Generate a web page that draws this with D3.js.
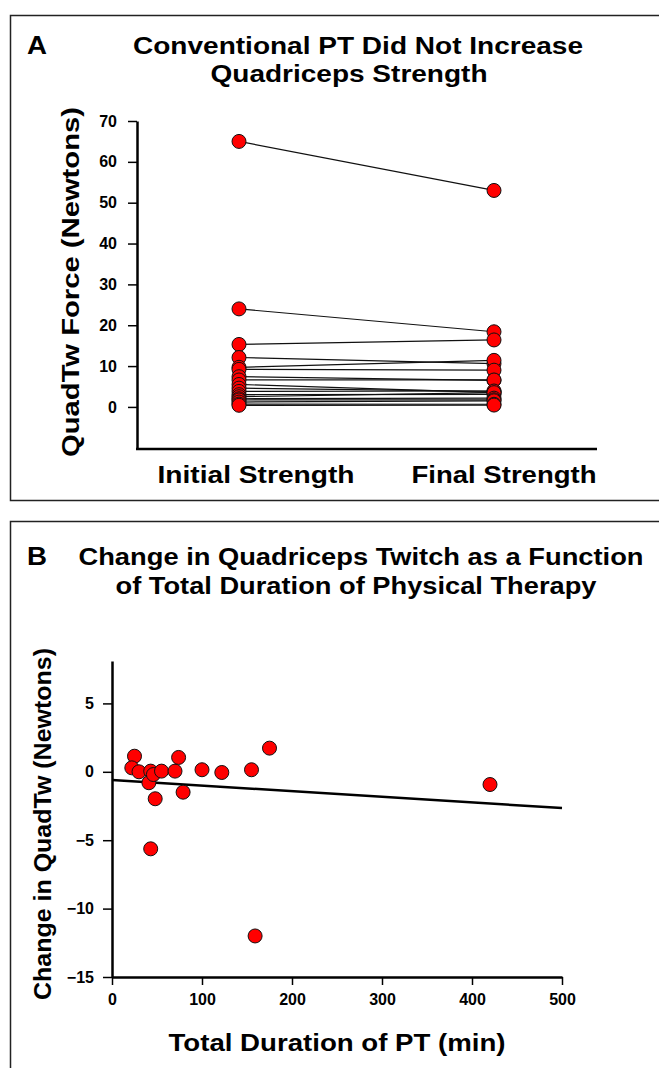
<!DOCTYPE html>
<html>
<head>
<meta charset="utf-8">
<script src="https://cdn.jsdelivr.net/npm/d3@7"></script>
<style>
  body { margin: 0; background: #fff; }
  svg text { font-family: "Liberation Sans", Arial, sans-serif; font-weight: bold; fill: #000; }
</style>
</head>
<body>
<svg id="chart" width="659" height="1068"></svg>
<script>
// Panel A: paired strength values per subject (Newtons)
const categoriesA = ['Initial Strength', 'Final Strength'];
const initialForce = [65, 24, 15.3, 12.1, 9.7, 9.2, 7.4, 6.6, 5.5, 4.6, 3.8, 3.0, 2.5, 2.0, 1.7, 1.2, 0.7, 0.4];
const finalForce   = [53, 18.4, 16.4, 10.6, 11.4, 9.0, 6.5, 6.6, 3.5, 3.8, 3.9, 3.05, 3.5, 2.15, 1.75, 1.5, 0.65, 0.45];
const ticksA = [0, 10, 20, 30, 40, 50, 60, 70];

// Panel B: PT duration (min) vs change in QuadTw (N)
const durationMin = [25, 22, 30, 43, 41, 46, 48, 55, 70, 74, 79, 100, 122, 155, 175, 43, 420, 159];
const changeForce = [1.14, 0.29, 0, 0.05, -0.8, -0.2, -1.97, 0.05, 0.05, 1.05, -1.49, 0.15, -0.05, 0.15, 1.73, -5.63, -0.93, -12];
const fitX = [0, 500];
const fitY = [-0.6, -2.65];
const ticksBx = [0, 100, 200, 300, 400, 500];
const ticksBy = [-15, -10, -5, 0, 5];

const svg = d3.select('#chart');

// text helper: reference glyphs are a bit wider than Liberation Sans, so stretch to measured width
function label(parent, str, x, y, size, width, rot) {
  const t = parent.append('text')
    .attr('transform', rot ? `translate(${x},${y}) rotate(-90)` : `translate(${x},${y})`)
    .attr('text-anchor', 'middle').attr('font-size', size).text(str);
  if (width) t.attr('textLength', width).attr('lengthAdjust', 'spacingAndGlyphs');
  return t;
}

// panel frames (they run off the right/bottom edge)
svg.append('rect').attr('x', 10.5).attr('y', 15.5).attr('width', 700).attr('height', 485)
  .attr('fill', 'none').attr('stroke', '#222').attr('stroke-width', 1.5);
svg.append('rect').attr('x', 10.5).attr('y', 521.5).attr('width', 700).attr('height', 600)
  .attr('fill', 'none').attr('stroke', '#222').attr('stroke-width', 1.5);

// ---------- Panel A ----------
const xA = d3.scalePoint().domain(categoriesA).range([137, 596]).padding(0.4);
const yA = d3.scaleLinear().domain([-10.3, 70]).range([449, 121]);

label(svg, 'A', 37, 54, 26, 20);
label(svg, 'Conventional PT Did Not Increase', 358, 54, 23, 450);
label(svg, 'Quadriceps Strength', 349, 82, 23, 277);

const axA = svg.append('g').attr('transform', 'translate(137,0)')
  .call(d3.axisLeft(yA).tickValues(ticksA).tickSize(9).tickSizeOuter(0).tickPadding(11));
axA.select('.domain').attr('stroke-width', 2.5);
axA.selectAll('.tick line').attr('stroke-width', 1.5);
axA.selectAll('.tick text').attr('font-size', 16).attr('font-family', null);

svg.append('line').attr('x1', 136).attr('x2', 597).attr('y1', yA(-10.3)).attr('y2', yA(-10.3))
  .attr('stroke', '#000').attr('stroke-width', 2.5);

const catX = [256, 504];
const catW = [197, 185];
categoriesA.forEach((c, i) => label(svg, c, catX[i], 483, 23, catW[i]));

label(svg, 'QuadTw Force (Newtons)', 79, 282, 24, 350, true);

const pairs = initialForce.map((v, i) => ({ a: v, b: finalForce[i] }));
svg.append('g').selectAll('line').data(pairs).enter().append('line')
  .attr('x1', xA(categoriesA[0])).attr('x2', xA(categoriesA[1]))
  .attr('y1', d => yA(d.a)).attr('y2', d => yA(d.b))
  .attr('stroke', '#111').attr('stroke-width', 1.2);
const dotsA = svg.append('g');
dotsA.selectAll('.ini').data(initialForce).enter().append('circle')
  .attr('cx', xA(categoriesA[0])).attr('cy', d => yA(d)).attr('r', 7)
  .attr('fill', '#f00').attr('stroke', '#111').attr('stroke-width', 1);
dotsA.selectAll('.fin').data(finalForce).enter().append('circle')
  .attr('cx', xA(categoriesA[1])).attr('cy', d => yA(d)).attr('r', 7)
  .attr('fill', '#f00').attr('stroke', '#111').attr('stroke-width', 1);

// ---------- Panel B ----------
const xB = d3.scaleLinear().domain([0, 500]).range([112, 562]);
const yB = d3.scaleLinear().domain([-15, 8.1]).range([977, 661]);

label(svg, 'B', 37, 565, 26, 20);
label(svg, 'Change in Quadriceps Twitch as a Function', 361, 565, 23, 565);
label(svg, 'of Total Duration of Physical Therapy', 356, 594, 23, 481);

const axBy = svg.append('g').attr('transform', `translate(${xB(0)},0)`)
  .call(d3.axisLeft(yB).tickValues(ticksBy).tickSize(9).tickSizeOuter(0).tickPadding(9));
const axBx = svg.append('g').attr('transform', `translate(0,${yB(-15)})`)
  .call(d3.axisBottom(xB).tickValues(ticksBx).tickSize(8).tickSizeOuter(0).tickPadding(9));
[axBy, axBx].forEach(g => {
  g.select('.domain').attr('stroke-width', 2.5);
  g.selectAll('.tick line').attr('stroke-width', 1.5);
  g.selectAll('.tick text').attr('font-size', 16).attr('font-family', null);
});

label(svg, 'Change in QuadTw (Newtons)', 51, 824, 24, 352, true);
label(svg, 'Total Duration of PT (min)', 337, 1051, 23, 337);

svg.append('line').attr('x1', xB(fitX[0])).attr('x2', xB(fitX[1]))
  .attr('y1', yB(fitY[0])).attr('y2', yB(fitY[1]))
  .attr('stroke', '#000').attr('stroke-width', 2.5);

svg.append('g').selectAll('circle').data(durationMin).enter().append('circle')
  .attr('cx', d => xB(d)).attr('cy', (d, i) => yB(changeForce[i])).attr('r', 7)
  .attr('fill', '#f00').attr('stroke', '#111').attr('stroke-width', 1);
</script>
</body>
</html>
